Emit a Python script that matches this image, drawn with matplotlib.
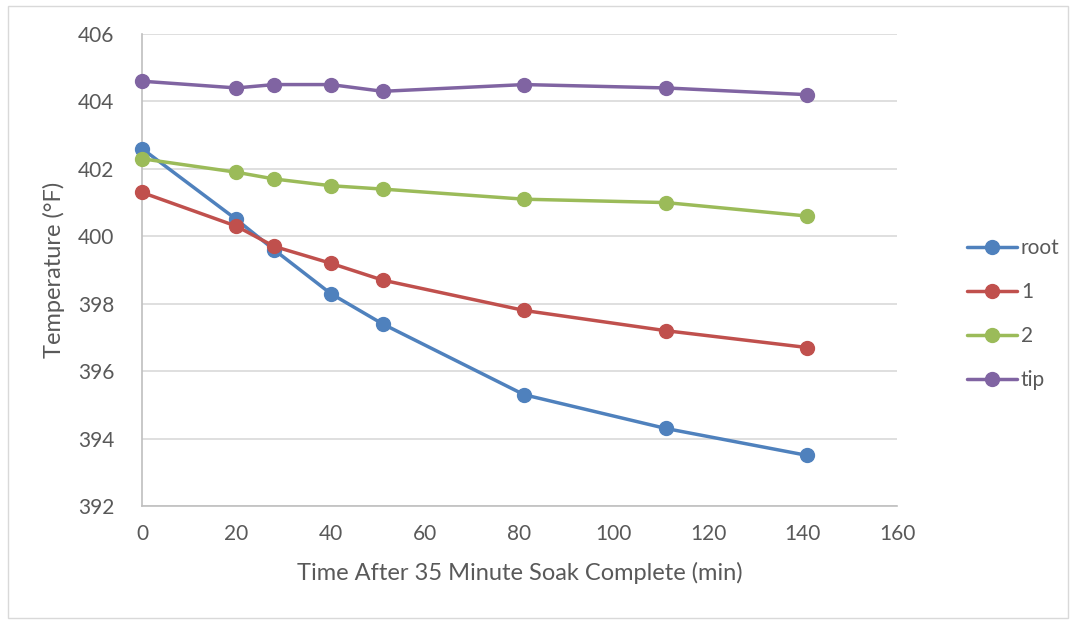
# temperature decay after soak, four positions along the part

import matplotlib.pyplot as plt
from matplotlib.patches import Rectangle

plt.rcParams['font.family'] = ['Lato', 'DejaVu Sans']

time_min = [0, 20, 28, 40, 51, 81, 111, 141]

root = [402.6, 400.5, 399.6, 398.3, 397.4, 395.3, 394.3, 393.5]
pos1 = [401.3, 400.3, 399.7, 399.2, 398.7, 397.8, 397.2, 396.7]
pos2 = [402.3, 401.9, 401.7, 401.5, 401.4, 401.1, 401.0, 400.6]
tip = [404.6, 404.4, 404.5, 404.5, 404.3, 404.5, 404.4, 404.2]

series = [('root', root, '#4f81bd'),
          ('1', pos1, '#c0504d'),
          ('2', pos2, '#9bbb59'),
          ('tip', tip, '#8064a2')]

x_ticks = [0, 20, 40, 60, 80, 100, 120, 140, 160]
y_ticks = [392, 394, 396, 398, 400, 402, 404, 406]

text_col = '#595959'

fig = plt.figure(figsize=(10.76, 6.22), dpi=100)
ax = fig.add_axes([142/1076, 1 - 506/622, (897-142)/1076, (506-34)/622])

for name, vals, col in series:
    ax.plot(time_min, vals, color=col, lw=2.5, marker='o', ms=10,
            label=name, solid_capstyle='round', zorder=3, clip_on=False)

ax.set_xlim(0, 160)
ax.set_ylim(392, 406)
ax.set_xticks(x_ticks)
ax.set_yticks(y_ticks)
ax.grid(axis='y', color='#d9d9d9', lw=1.2)
ax.set_axisbelow(True)
for s in ['top', 'right']:
    ax.spines[s].set_visible(False)
for s in ['left', 'bottom']:
    ax.spines[s].set_color('#bfbfbf')
    ax.spines[s].set_linewidth(1.2)
ax.tick_params(length=0, labelsize=15, labelcolor=text_col)
ax.tick_params(axis='x', pad=13)
ax.tick_params(axis='y', pad=20)

ax.set_xlabel('Time After 35 Minute Soak Complete (min)', fontsize=17,
              color=text_col, labelpad=13)
ax.set_ylabel('Temperature (°F)', fontsize=17, color=text_col, labelpad=9)

fig.legend(loc='center left', bbox_to_anchor=(948/1076, 1 - 314/622),
           frameon=False, fontsize=15, labelcolor=text_col,
           handlelength=2.4, handletextpad=0.2, labelspacing=1.15)

fig.patches.append(Rectangle((8/1076, 1 - 618/622), 1060/1076, 612/622,
                             transform=fig.transFigure, fill=False,
                             edgecolor='#d9d9d9', lw=1))

fig.savefig('out.png', dpi=100)
